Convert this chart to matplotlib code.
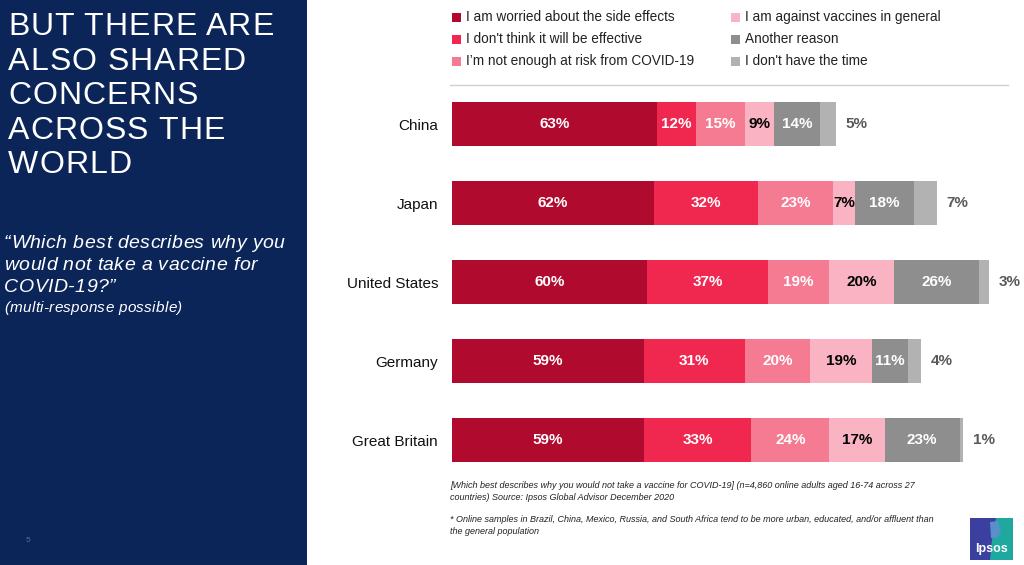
import numpy as np
import matplotlib
matplotlib.use("Agg")
import matplotlib.pyplot as plt
from matplotlib.patches import Rectangle, Polygon
from matplotlib.font_manager import FontProperties

plt.rcParams['font.family'] = ['Liberation Sans', 'DejaVu Sans']

countries = ["China", "Japan", "United States", "Germany", "Great Britain"]
reasons = [
    "I am worried about the side effects",
    "I don't think it will be effective",
    "I\u2019m not enough at risk from COVID-19",
    "I am against vaccines in general",
    "Another reason",
    "I don't have the time",
]
side_effects = [63, 62, 60, 59, 59]
not_effective = [12, 32, 37, 31, 33]
not_at_risk = [15, 23, 19, 20, 24]
against_vaccines = [9, 7, 20, 19, 17]
another_reason = [14, 18, 26, 11, 23]
no_time = [5, 7, 3, 4, 1]

colors = ["#B00A2E", "#F0274F", "#F47B92", "#F9B3C2", "#8E8E8E", "#B2B2B2"]
label_colors = ["white", "white", "white", "black", "white", None]

W, H = 1024, 565
fig = plt.figure(figsize=(W / 100, H / 100), dpi=100)
renderer = fig.canvas.get_renderer()


def px(x, y):
    return x / W, 1 - y / H


def spaced_text(x, y, s, spacing, size, style="normal", **kw):
    # draw text char by char, adding extra pixel spacing between letters
    prop = FontProperties(family=['Liberation Sans', 'DejaVu Sans'], size=size, style=style)

    def width(t):
        return renderer.get_text_width_height_descent(t, prop, ismath=False)[0]

    for i, ch in enumerate(s):
        if ch == " ":
            continue
        off = width(s[:i + 1]) - width(ch) + i * spacing
        fig.text(*px(x + off, y), ch, fontproperties=prop, ha="left", **kw)


# left navy panel
fig.patches.append(Rectangle((0, 0), 307 / W, 1, transform=fig.transFigure,
                             facecolor="#0C2559", edgecolor="none", zorder=0))

title_lines = ["BUT THERE ARE", "ALSO SHARED", "CONCERNS", "ACROSS THE", "WORLD"]
for i, line in enumerate(title_lines):
    spaced_text(8, 35 + i * 34.6, line, 1.0, 23, color="white", va="baseline")

sub_lines = ["\u201cWhich best describes why you", "would not take a vaccine for",
             "COVID-19?\u201d"]
for i, line in enumerate(sub_lines):
    spaced_text(4, 248 + i * 21.8, line, 0.4, 14, style="italic",
                color="white", va="baseline")
spaced_text(4, 312, "(multi-response possible)", 0.3, 11, style="italic",
            color="white", va="baseline")
fig.text(*px(28, 540), "5", color="#5A6AA0", fontsize=6, va="center", ha="center")

# legend
for i, (name, col) in enumerate(zip(reasons, colors)):
    colx = 452 if i < 3 else 731
    rowy = 17 + (i % 3) * 22
    fig.patches.append(Rectangle(px(colx, rowy + 4.5), 9 / W, 9 / H,
                                 transform=fig.transFigure, facecolor=col,
                                 edgecolor="none"))
    fig.text(*px(colx + 14, rowy), name, fontsize=9.8, color="#222222",
             va="center", ha="left")
fig.add_artist(plt.Line2D([450 / W, 1008 / W], [1 - 85 / H, 1 - 85 / H],
                          color="#D0D0D0", lw=1, transform=fig.transFigure))

# bars
ax = fig.add_axes([452 / W, 1 - 479.5 / H, 558 / W, 395 / H])
series = [side_effects, not_effective, not_at_risk, against_vaccines,
          another_reason, no_time]
y = np.arange(len(countries))
left = np.zeros(len(countries))
for vals, col, lc in zip(series, colors, label_colors):
    vals = np.array(vals)
    ax.barh(y, vals, left=left, height=0.56, color=col, edgecolor="none")
    for yi, (l, v) in enumerate(zip(left, vals)):
        if lc is None:
            ax.text(l + v + 3, yi, f"{v}%", color="#595959", fontsize=11,
                    fontweight="bold", va="center", ha="left")
        else:
            ax.text(l + v / 2, yi, f"{v}%", color=lc, fontsize=11,
                    fontweight="bold", va="center", ha="center")
    left = left + vals

ax.set_xlim(0, 171.5)
ax.set_ylim(len(countries) - 0.5, -0.5)
ax.set_yticks(y)
ax.set_yticklabels(countries, fontsize=11, color="#111111")
ax.tick_params(axis="y", length=0, pad=10)
ax.set_xticks([])
for s in ax.spines.values():
    s.set_visible(False)

# footnotes
foot = [
    (485, "[Which best describes why you would not take a vaccine for COVID-19] (n=4,860 online adults aged 16-74 across 27"),
    (497, "countries) Source: Ipsos Global Advisor December 2020"),
    (519, "* Online samples in Brazil, China, Mexico, Russia, and South Africa tend to be more urban, educated, and/or affluent than"),
    (531, "the general population"),
]
for yy, t in foot:
    fig.text(*px(450, yy), t, fontsize=6.5, style="italic", color="#222222",
             va="center", ha="left")

# Ipsos logo
fig.patches.append(Rectangle(px(970, 560), 43 / W, 42 / H, transform=fig.transFigure,
                             facecolor="#3A3FA0", edgecolor="none"))
fig.patches.append(Polygon([px(996, 518), px(1013, 518), px(1013, 560), px(990, 560),
                            px(992, 540)], closed=True, transform=fig.transFigure,
                           facecolor="#1FA89E", edgecolor="none"))
fig.patches.append(Polygon([px(990, 522), px(998, 521), px(1001, 532), px(997, 538),
                            px(991, 538)], closed=True, transform=fig.transFigure,
                           facecolor="#5A8FCC", edgecolor="none"))
fig.text(*px(991, 549), "Ipsos", color="white", fontsize=9, fontweight="bold",
         va="center", ha="center")

fig.savefig("out.png", dpi=100)
